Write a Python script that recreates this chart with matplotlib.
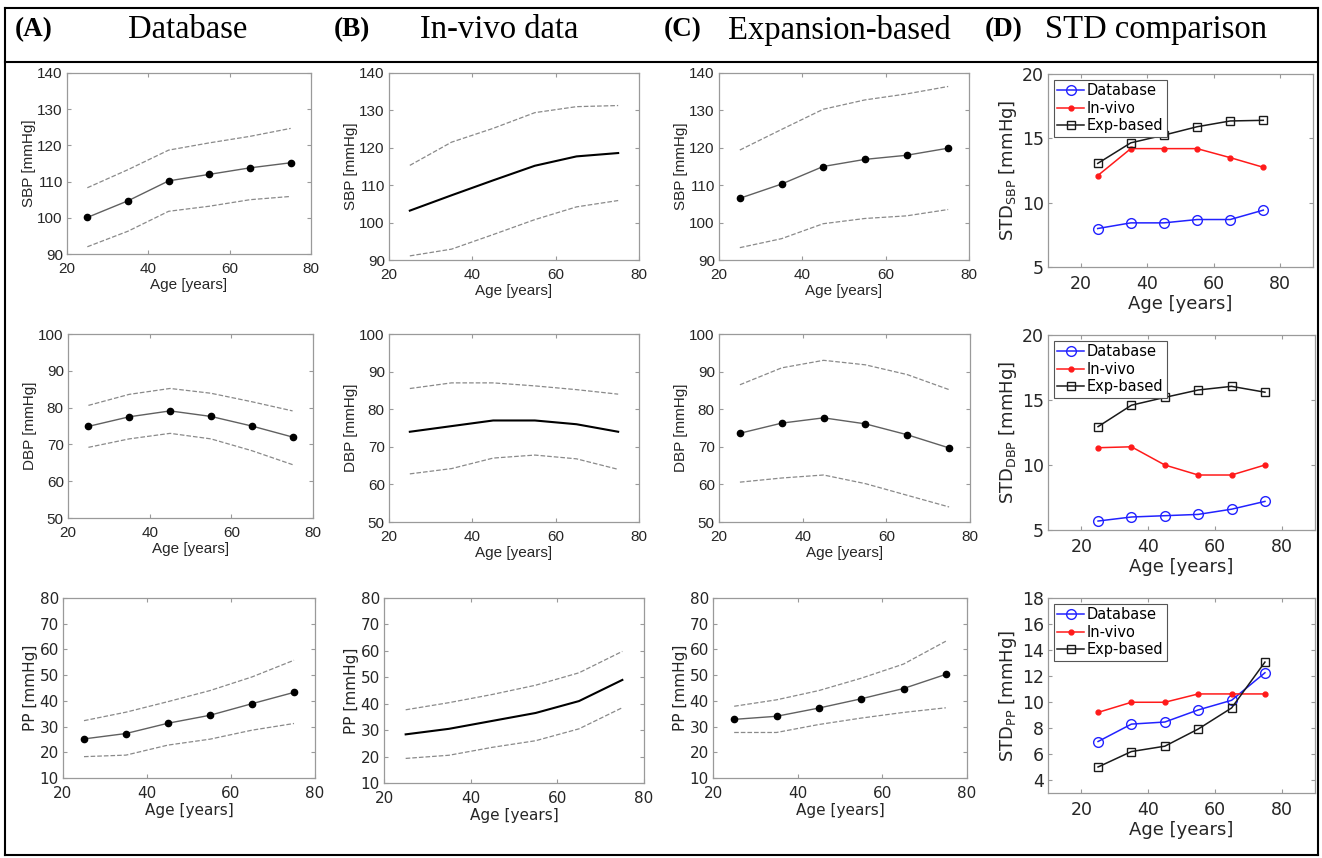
import matplotlib
matplotlib.use("Agg")
from matplotlib import pyplot as plt
from matplotlib.lines import Line2D

age = [25, 35, 45, 55, 65, 75]

# column A: database
sbp_db = [100.1, 104.7, 110.2, 112.0, 113.8, 115.2]
sbp_db_hi = [108.3, 113.3, 118.7, 120.7, 122.5, 124.7]
sbp_db_lo = [92.0, 96.3, 101.8, 103.2, 105.0, 105.9]
dbp_db = [74.9, 77.5, 79.1, 77.6, 75.0, 72.0]
dbp_db_hi = [80.6, 83.6, 85.2, 83.9, 81.6, 79.1]
dbp_db_lo = [69.2, 71.5, 73.0, 71.5, 68.3, 64.5]
pp_db = [25.2, 27.3, 31.3, 34.4, 38.9, 43.3]
pp_db_hi = [32.3, 35.6, 39.7, 44.0, 49.3, 55.8]
pp_db_lo = [18.3, 18.9, 22.8, 25.1, 28.6, 31.2]

# column B: in-vivo
sbp_iv = [103.2, 107.3, 111.3, 115.2, 117.7, 118.6]
sbp_iv_hi = [115.3, 121.5, 125.2, 129.4, 131.0, 131.3]
sbp_iv_lo = [91.1, 92.9, 96.8, 100.8, 104.2, 105.9]
dbp_iv = [74.0, 75.5, 77.0, 77.0, 76.0, 74.0]
dbp_iv_hi = [85.5, 87.0, 87.0, 86.2, 85.2, 84.0]
dbp_iv_lo = [62.8, 64.2, 67.0, 67.8, 66.8, 64.0]
pp_iv = [28.4, 30.5, 33.5, 36.5, 41.0, 49.0]
pp_iv_hi = [37.7, 40.4, 43.5, 47.0, 51.7, 59.8]
pp_iv_lo = [19.3, 20.5, 23.5, 26.0, 30.5, 38.5]

# column C: expansion-based
sbp_ex = [106.5, 110.3, 115.0, 116.9, 118.0, 119.9]
sbp_ex_hi = [119.4, 124.9, 130.3, 132.8, 134.4, 136.4]
sbp_ex_lo = [93.3, 95.7, 99.7, 101.1, 101.8, 103.5]
dbp_ex = [73.6, 76.3, 77.7, 76.1, 73.2, 69.7]
dbp_ex_hi = [86.5, 91.0, 93.0, 91.8, 89.2, 85.2]
dbp_ex_lo = [60.6, 61.7, 62.5, 60.2, 57.1, 54.0]
pp_ex = [32.8, 34.0, 37.2, 40.8, 44.8, 50.3]
pp_ex_hi = [37.9, 40.4, 44.0, 48.8, 54.3, 63.2]
pp_ex_lo = [27.7, 27.7, 30.8, 33.3, 35.5, 37.3]

# column D: std comparison
std_sbp_db = [7.99, 8.43, 8.43, 8.69, 8.69, 9.42]
std_sbp_iv = [12.1, 14.2, 14.2, 14.2, 13.5, 12.75]
std_sbp_ex = [13.05, 14.65, 15.25, 15.9, 16.35, 16.4]
std_dbp_db = [5.69, 6.0, 6.1, 6.2, 6.6, 7.2]
std_dbp_iv = [11.33, 11.4, 10.0, 9.23, 9.23, 10.0]
std_dbp_ex = [12.95, 14.6, 15.2, 15.77, 16.05, 15.6]
std_pp_db = [6.96, 8.3, 8.46, 9.39, 10.13, 12.25]
std_pp_iv = [9.2, 9.98, 9.98, 10.62, 10.62, 10.62]
std_pp_ex = [5.0, 6.19, 6.6, 7.92, 9.54, 13.07]

W, H = 1322, 858
fig = plt.figure(figsize=(W / 100, H / 100), dpi=100)


def add_ax(x0, y0, x1, y1):
    return fig.add_axes([x0 / W, 1 - y1 / H, (x1 - x0) / W, (y1 - y0) / H])


def style(ax, fs, font):
    for s in ax.spines.values():
        s.set_color('#9a9a9a')
        s.set_linewidth(0.9)
    ax.tick_params(direction='in', top=True, right=True, length=3,
                   color='#9a9a9a', labelsize=fs, labelcolor='#262626')
    ax.tick_params(axis='x', pad=6)
    ax.tick_params(axis='y', pad=3)
    for lab in ax.get_xticklabels() + ax.get_yticklabels():
        lab.set_family(font)


def band_plot(ax, mean, hi, lo, ylim, yticks, ylabel, dots, font):
    ax.plot(age, hi, '--', color='#8a8a8a', lw=0.9)
    ax.plot(age, lo, '--', color='#8a8a8a', lw=0.9)
    if dots:
        ax.plot(age, mean, '-', color='#606060', lw=1.0, marker='o',
                ms=4.5, mfc='black', mec='black')
    else:
        ax.plot(age, mean, '-', color='black', lw=1.5)
    ax.set_xlim(20, 80)
    ax.set_ylim(*ylim)
    ax.set_xticks([20, 40, 60, 80])
    ax.set_yticks(yticks)
    ax.set_xlabel('Age [years]', fontsize=11, family=font, color='#262626', labelpad=1)
    ax.set_ylabel(ylabel, fontsize=11, family=font, color='#262626', labelpad=1)
    style(ax, 11, font)


def std_plot(ax, db, iv, ex, ylim, yticks, sub):
    ax.plot(age, db, '-', color='#2222ff', lw=1.1, marker='o', ms=7,
            mfc='none', mec='#2222ff', label='Database')
    ax.plot(age, iv, '-', color='#ff1a1a', lw=1.1, marker='o', ms=3.5,
            mfc='#ff1a1a', mec='#ff1a1a', label='In-vivo')
    ax.plot(age, ex, '-', color='#1a1a1a', lw=1.1, marker='s', ms=5.5,
            mfc='none', mec='#1a1a1a', label='Exp-based')
    ax.set_xlim(10, 90)
    ax.set_ylim(*ylim)
    ax.set_xticks([20, 40, 60, 80])
    ax.set_yticks(yticks)
    ax.set_xlabel('Age [years]', fontsize=13, color='#262626', labelpad=1)
    ax.set_ylabel('STD$_{\\mathregular{' + sub + '}}$ [mmHg]', fontsize=13,
                  color='#262626', labelpad=2)
    style(ax, 12.5, 'DejaVu Sans')
    leg = ax.legend(loc='upper left', fontsize=10.5, handlelength=1.8,
                    handletextpad=0.2, borderpad=0.25, labelspacing=0.15,
                    borderaxespad=0.4, fancybox=False, framealpha=1)
    leg.get_frame().set_edgecolor('#555555')
    leg.get_frame().set_linewidth(0.8)


# row 1: SBP
band_plot(add_ax(67, 73, 311, 254), sbp_db, sbp_db_hi, sbp_db_lo, (90, 140),
          range(90, 141, 10), 'SBP [mmHg]', True, 'Liberation Sans')
band_plot(add_ax(389, 73, 639, 260), sbp_iv, sbp_iv_hi, sbp_iv_lo, (90, 140),
          range(90, 141, 10), 'SBP [mmHg]', False, 'Liberation Sans')
band_plot(add_ax(719, 73, 969, 260), sbp_ex, sbp_ex_hi, sbp_ex_lo, (90, 140),
          range(90, 141, 10), 'SBP [mmHg]', True, 'Liberation Sans')
std_plot(add_ax(1048, 74, 1313, 267), std_sbp_db, std_sbp_iv, std_sbp_ex,
         (5, 20), [5, 10, 15, 20], 'SBP')

# row 2: DBP
band_plot(add_ax(68, 334, 313, 518), dbp_db, dbp_db_hi, dbp_db_lo, (50, 100),
          range(50, 101, 10), 'DBP [mmHg]', True, 'Liberation Sans')
band_plot(add_ax(389, 334, 639, 522), dbp_iv, dbp_iv_hi, dbp_iv_lo, (50, 100),
          range(50, 101, 10), 'DBP [mmHg]', False, 'Liberation Sans')
band_plot(add_ax(719, 334, 970, 522), dbp_ex, dbp_ex_hi, dbp_ex_lo, (50, 100),
          range(50, 101, 10), 'DBP [mmHg]', True, 'Liberation Sans')
std_plot(add_ax(1048, 335, 1315, 530), std_dbp_db, std_dbp_iv, std_dbp_ex,
         (5, 20), [5, 10, 15, 20], 'DBP')

# row 3: PP
band_plot(add_ax(63, 598, 315, 778), pp_db, pp_db_hi, pp_db_lo, (10, 80),
          range(10, 81, 10), 'PP [mmHg]', True, 'DejaVu Sans')
band_plot(add_ax(384, 598, 644, 783), pp_iv, pp_iv_hi, pp_iv_lo, (10, 80),
          range(10, 81, 10), 'PP [mmHg]', False, 'DejaVu Sans')
band_plot(add_ax(713, 598, 967, 778), pp_ex, pp_ex_hi, pp_ex_lo, (10, 80),
          range(10, 81, 10), 'PP [mmHg]', True, 'DejaVu Sans')
std_plot(add_ax(1048, 598, 1315, 793), std_pp_db, std_pp_iv, std_pp_ex,
         (3, 18), range(4, 19, 2), 'PP')

# frame and header
frame = [((5, 1318), (8, 8)), ((5, 1318), (62, 62)), ((5, 1318), (855, 855)),
         ((5, 5), (8, 855)), ((1318, 1318), (8, 855))]
for xs, ys in frame:
    fig.add_artist(Line2D([x / W for x in xs], [1 - y / H for y in ys],
                          color='black', lw=1.5))

headers = [('(A)', 15, 'Database', 128), ('(B)', 334, 'In-vivo data', 420),
           ('(C)', 664, 'Expansion-based', 728), ('(D)', 985, 'STD comparison', 1045)]
for tag, xt, title, xs in headers:
    fig.text(xt / W, 1 - 30 / H, tag, fontsize=19.5, fontweight='bold',
             family='Liberation Serif', va='center', ha='left')
    fig.text(xs / W, 1 - 30 / H, title, fontsize=23.5,
             family='Liberation Serif', va='center', ha='left')

fig.savefig('out.png', dpi=100)
